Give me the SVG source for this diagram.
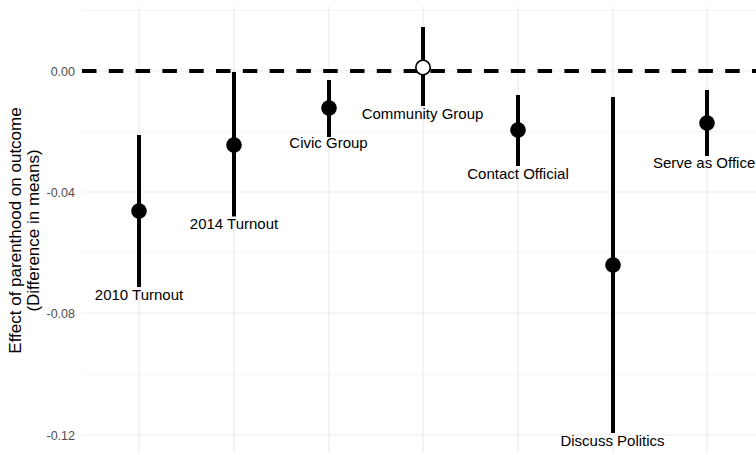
<svg xmlns="http://www.w3.org/2000/svg" width="756" height="455" viewBox="0 0 756 455">
<style>
  .gmaj { stroke: #ebebeb; stroke-width: 1.2; fill: none; }
  .gmin { stroke: #f0f0f0; stroke-width: 0.8; fill: none; }
  .bar { stroke: #000; stroke-width: 4; stroke-linecap: butt; }
  .pt { fill: #000; }
  .hollow { fill: #fff; stroke: #000; stroke-width: 1.6; }
  .lbl { font-family: "Liberation Sans", Arial, sans-serif; font-size: 15px; fill: #000; text-anchor: middle; }
  .tick { font-family: "Liberation Sans", Arial, sans-serif; font-size: 12.5px; fill: #4d4d4d; text-anchor: end; }
  .title { font-family: "Liberation Sans", Arial, sans-serif; font-size: 17px; fill: #000; text-anchor: middle; }
</style>
<rect x="0" y="0" width="756" height="455" fill="#fff"/>
<g id="grid">
  <line class="gmin" x1="82" y1="10.5" x2="756" y2="10.5"/>
  <line class="gmin" x1="82" y1="131.5" x2="756" y2="131.5"/>
  <line class="gmin" x1="82" y1="252.5" x2="756" y2="252.5"/>
  <line class="gmin" x1="82" y1="374" x2="756" y2="374"/>
  <line class="gmaj" x1="82" y1="71" x2="756" y2="71"/>
  <line class="gmaj" x1="82" y1="192" x2="756" y2="192"/>
  <line class="gmaj" x1="82" y1="313" x2="756" y2="313"/>
  <line class="gmaj" x1="82" y1="435" x2="756" y2="435"/>
  <line class="gmaj" x1="139" y1="7" x2="139" y2="453"/>
  <line class="gmaj" x1="234" y1="7" x2="234" y2="453"/>
  <line class="gmaj" x1="329" y1="7" x2="329" y2="453"/>
  <line class="gmaj" x1="423" y1="7" x2="423" y2="453"/>
  <line class="gmaj" x1="518" y1="7" x2="518" y2="453"/>
  <line class="gmaj" x1="613" y1="7" x2="613" y2="453"/>
  <line class="gmaj" x1="707" y1="7" x2="707" y2="453"/>
</g>
<g id="axis">
  <text class="tick" x="75" y="75.5">0.00</text>
  <text class="tick" x="75" y="196.5">-0.04</text>
  <text class="tick" x="75" y="317.5">-0.08</text>
  <text class="tick" x="75" y="439.5">-0.12</text>
  <text class="title" transform="translate(21,230.5) rotate(-90)">Effect of parenthood on outcome</text>
  <text class="title" transform="translate(39,230.5) rotate(-90)">(Difference in means)</text>
</g>
<g id="connectors">
  <line x1="82" y1="71" x2="756" y2="71" stroke="#000" stroke-width="4" stroke-dasharray="14.5 12.3"/>
</g>
<g id="turnout2010">
  <line class="bar" x1="139" y1="135" x2="139" y2="287"/>
  <circle class="pt" cx="139" cy="211" r="7.8"/>
  <text class="lbl" x="139" y="299.5">2010 Turnout</text>
</g>
<g id="turnout2014">
  <line class="bar" x1="234" y1="72" x2="234" y2="216.5"/>
  <circle class="pt" cx="234" cy="145" r="7.8"/>
  <text class="lbl" x="234" y="229">2014 Turnout</text>
</g>
<g id="civic">
  <line class="bar" x1="329" y1="80" x2="329" y2="137"/>
  <circle class="pt" cx="329" cy="108" r="7.8"/>
  <text class="lbl" x="328.5" y="148">Civic Group</text>
</g>
<g id="community">
  <line class="bar" x1="423" y1="27" x2="423" y2="106"/>
  <circle class="hollow" cx="423" cy="67.5" r="7.2"/>
  <text class="lbl" x="422.5" y="118.5">Community Group</text>
</g>
<g id="contact">
  <line class="bar" x1="518" y1="95" x2="518" y2="166"/>
  <circle class="pt" cx="518" cy="130" r="7.8"/>
  <text class="lbl" x="518" y="179">Contact Official</text>
</g>
<g id="discuss">
  <line class="bar" x1="613" y1="97" x2="613" y2="433"/>
  <circle class="pt" cx="613" cy="265" r="7.8"/>
  <text class="lbl" x="612.5" y="445.5">Discuss Politics</text>
</g>
<g id="officer">
  <line class="bar" x1="707" y1="90" x2="707" y2="156"/>
  <circle class="pt" cx="707" cy="123" r="7.8"/>
  <text class="lbl" x="653" y="168" style="text-anchor:start">Serve as Office</text>
</g>
</svg>
